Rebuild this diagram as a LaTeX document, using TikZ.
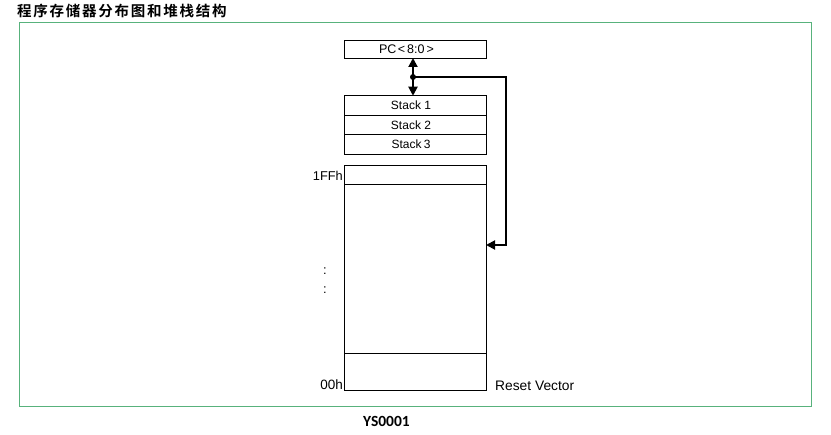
\documentclass[tikz,border=0pt]{standalone}
\usepackage{fontspec}
\setmainfont{Liberation Sans}
\newfontfamily\cjkbold{Noto Sans CJK SC Bold}[LetterSpace=12]
\newfontfamily\carlito{Carlito}
\usetikzlibrary{arrows.meta}
\definecolor{framegreen}{RGB}{88,178,124}
\begin{document}
\begin{tikzpicture}[x=1pt,y=-1pt,
  cell/.style={draw=black,line width=0.9pt,minimum width=142pt,inner sep=0pt,outer sep=0pt,font=\fontsize{12}{14}\selectfont},
  celltext/.style={inner sep=0pt,font=\fontsize{12}{14}\selectfont},
  lbl/.style={inner sep=0pt,font=\fontsize{12.8}{14}\selectfont},
  bus/.style={line width=1.9pt},
  tip/.style={-{Triangle[length=9pt,width=9pt]}}]
\useasboundingbox (0,0) rectangle (831,435);
% frame
\draw[framegreen,line width=1pt] (19,23) rectangle (811,407);
% title
\node[anchor=west,inner sep=0pt,font={\cjkbold\fontsize{14.5}{16}\selectfont}] (title) at (17,11) {程序存储器分布图和堆栈结构};
% PC box
\node[cell,minimum height=18pt] (pc) at (415,49) {};
\node[celltext,font=\fontsize{12.5}{14}\selectfont] (pct) at ([xshift=-8.5pt]pc.center) {PC\kern1.5pt<\kern2pt8:0\kern2pt>};
% stack
\node[cell,minimum height=19.5pt] (s1) at (415,105.5) {};
\node[cell,minimum height=19.5pt,anchor=north] (s2) at (s1.south) {};
\node[cell,minimum height=19.5pt,anchor=north] (s3) at (s2.south) {};
\node[celltext] (s1t) at ([xshift=-4pt]s1.center) {Stack 1};
\node[celltext] (s2t) at ([xshift=-4pt]s2.center) {Stack 2};
\node[celltext] (s3t) at ([xshift=-4pt]s3.center) {Stack\kern2.2pt3};
% memory
\node[cell,minimum height=19pt] (m1) at (415,174.5) {};
\node[cell,minimum height=169pt,anchor=north] (m2) at (m1.south) {};
\node[cell,minimum height=37pt,anchor=north] (m3) at (m2.south) {};
% labels
\node[lbl,anchor=east] (l1ff) at (343,176) {1FFh};
\node[lbl,anchor=east,font=\fontsize{13.5}{15}\selectfont] (l00) at (343,385) {00h};
\node[lbl,anchor=west,font=\fontsize{13.8}{15}\selectfont] (lrv) at (495,386) {Reset Vector};
\node[lbl] (d1) at (325,271) {:};
\node[lbl] (d2) at (325,290) {:};
% connectors
\coordinate (j) at (413,77);
\coordinate (c1) at (506,77);
\coordinate (c2) at (506,245);
\draw[bus,tip] (j) -- (j |- pc.south);
\draw[bus,tip] (j) -- (j |- s1.north);
\draw[bus,tip,line join=miter] (j) -- (c1) -- (c2) -- (c2 -| m2.east);
\fill (j) circle (3pt);
% caption
\node[inner sep=0pt,font={\carlito\bfseries\fontsize{15.5}{17}\selectfont}] (cap) at (386.5,421) {YS0001};
\end{tikzpicture}
\end{document}
